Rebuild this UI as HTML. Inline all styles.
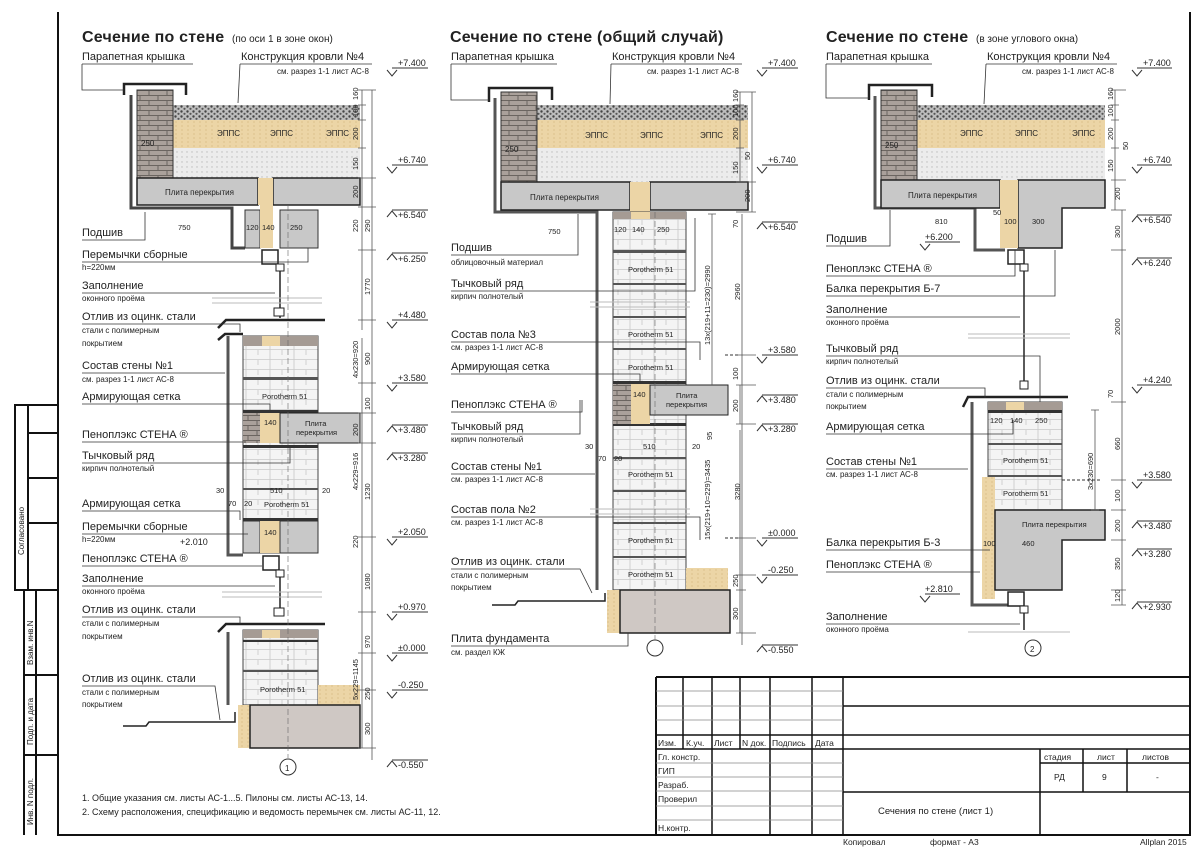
<!DOCTYPE html>
<html><head><meta charset="utf-8"><style>
html,body{margin:0;padding:0;background:#fff}
svg{display:block}
text{font-family:"Liberation Sans","DejaVu Sans",sans-serif;fill:#222}
.t{font-size:16px;font-weight:bold;letter-spacing:0.2px}
.ts{font-size:10px}
.l{font-size:11px}
.s{font-size:8px}
.d{font-size:7.5px}
.lv{font-size:9px}
.tb{font-size:8.5px}
</style></head><body>
<svg width="1200" height="849" viewBox="0 0 1200 849" xmlns="http://www.w3.org/2000/svg">
<defs>
<pattern id="brick" width="18" height="10" patternUnits="userSpaceOnUse">
<rect width="18" height="10" fill="#aaa19b"/><path d="M0 0.5H18M0 5.5H18M5 0V5M14 5V10" stroke="#6b6560" stroke-width="1"/></pattern>
<pattern id="grav" width="6" height="5" patternUnits="userSpaceOnUse">
<rect width="6" height="5" fill="#bdbdbd"/><circle cx="1.5" cy="1.5" r="1.2" fill="#444"/><circle cx="4.5" cy="3.8" r="1.1" fill="#555"/></pattern>
<pattern id="eps" width="6" height="4" patternUnits="userSpaceOnUse">
<rect width="6" height="4" fill="#ecd5a6"/><circle cx="2" cy="2" r="0.6" fill="#d2b27a"/></pattern>
<pattern id="lg" width="5" height="5" patternUnits="userSpaceOnUse">
<rect width="5" height="5" fill="#ececec"/><circle cx="2" cy="2" r="0.7" fill="#bbb"/></pattern>
<pattern id="poro" width="24" height="10" patternUnits="userSpaceOnUse">
<rect width="24" height="10" fill="#f4f4f4"/><path d="M0 9.5H24M6 0V10M18 0V5" stroke="#c9c9c9" stroke-width="0.8"/></pattern>
<pattern id="conc" width="8" height="8" patternUnits="userSpaceOnUse">
<rect width="8" height="8" fill="#c9c9c9"/></pattern>
</defs>

<!-- frame -->
<g fill="none" stroke="#111" stroke-width="2">
<path d="M58 12V835H1190V12"/>
<rect x="15" y="405" width="43" height="185"/>
<path d="M24 590V835M36 590V835M28 405V590M24 590H58M24 675H58M24 755H58M28 433H58M28 478H58M28 523H58"/>
</g>
<text transform="translate(24,555) rotate(-90)" class="s">Согласовано</text>
<text transform="translate(33,665) rotate(-90)" class="s">Взам. инв.N</text>
<text transform="translate(33,745) rotate(-90)" class="s">Подп. и дата</text>
<text transform="translate(33,825) rotate(-90)" class="s">Инв. N подл.</text>

<!-- ================== COLUMN 1 ================== -->
<text x="82" y="42" class="t">Сечение по стене</text><text x="232" y="42" class="ts">(по оси 1 в зоне окон)</text>
<!-- roof -->
<rect x="173" y="105" width="187" height="15" fill="url(#grav)"/>
<rect x="173" y="120" width="187" height="28" fill="url(#eps)"/>
<rect x="173" y="148" width="187" height="30" fill="url(#lg)"/>
<text x="217" y="136" class="s" fill="#777">ЭППС</text><text x="270" y="136" class="s" fill="#777">ЭППС</text><text x="326" y="136" class="s" fill="#777">ЭППС</text>
<rect x="137" y="90" width="36" height="88" fill="url(#brick)" stroke="#333"/>
<text x="141" y="146" class="s">250</text>
<path d="M124 95V84H186V95M124 84" fill="none" stroke="#222" stroke-width="2.5"/>
<path d="M131 95V208H232V248H245" fill="none" stroke="#444" stroke-width="3"/>
<rect x="137" y="178" width="121" height="27" fill="#c8c8c8" stroke="#222" stroke-width="1.5"/>
<rect x="273" y="178" width="87" height="27" fill="#c8c8c8" stroke="#222" stroke-width="1.5"/>
<rect x="258" y="178" width="15" height="27" fill="#ecd5a6"/>
<text x="165" y="195" class="s" fill="#666">Плита перекрытия</text>
<rect x="245" y="210" width="15" height="38" fill="#c8c8c8" stroke="#333"/><rect x="260" y="205" width="13" height="43" fill="#ecd5a6"/><rect x="280" y="210" width="38" height="38" fill="#c8c8c8" stroke="#333"/>
<text x="246" y="230" class="d">120</text><text x="262" y="230" class="d">140</text><text x="290" y="230" class="d">250</text>
<text x="178" y="230" class="d">750</text>
<!-- window 1 -->
<rect x="262" y="250" width="16" height="14" fill="#fff" stroke="#222" stroke-width="1.5"/><rect x="276" y="264" width="8" height="7" fill="#fff" stroke="#222"/>
<path d="M280 271V318" stroke="#222" stroke-width="1.5"/>
<path d="M212 303H322M212 298H322" stroke="#bbb"/>
<path d="M218 328L226 320H325" fill="none" stroke="#222" stroke-width="2.5"/><rect x="274" y="308" width="10" height="8" fill="#fff" stroke="#222"/>
<!-- wall 1 -->
<rect x="243" y="336" width="75" height="217" fill="url(#poro)" stroke="#444"/>
<rect x="243" y="336" width="75" height="10" fill="#a59b94"/><rect x="262" y="336" width="18" height="10" fill="#ecd5a6"/>
<rect x="243" y="377" width="75" height="3" fill="#555"/><rect x="243" y="410" width="75" height="3" fill="#333"/>
<rect x="243" y="413" width="17" height="30" fill="url(#brick)"/><rect x="260" y="413" width="20" height="30" fill="#ecd5a6"/>
<rect x="280" y="413" width="80" height="30" fill="#c8c8c8" stroke="#222"/><text x="305" y="426" class="d" fill="#666">Плита</text><text x="296" y="435" class="d" fill="#666">перекрытия</text>
<text x="264" y="425" class="d">140</text>
<rect x="243" y="445" width="75" height="3" fill="#333"/><rect x="243" y="488" width="75" height="2" fill="#555"/>
<text x="264" y="507" class="d" fill="#999">Porotherm 51</text><text x="262" y="399" class="d" fill="#999">Porotherm 51</text>
<rect x="243" y="518" width="75" height="3" fill="#333"/>
<rect x="243" y="521" width="17" height="32" fill="#c8c8c8" stroke="#333"/><rect x="260" y="521" width="20" height="32" fill="#ecd5a6"/><rect x="280" y="521" width="38" height="32" fill="#c8c8c8" stroke="#333"/>
<text x="264" y="535" class="d">140</text>
<text x="216" y="493" class="d">30</text><text x="270" y="493" class="d">510</text><text x="322" y="493" class="d">20</text><text x="228" y="506" class="d">70</text><text x="244" y="506" class="d">20</text>
<path d="M228 336V555H243" fill="none" stroke="#555" stroke-width="3"/>
<path d="M218 340L225 334H243" fill="none" stroke="#222" stroke-width="2.5"/>
<!-- window 2 -->
<rect x="263" y="556" width="16" height="14" fill="#fff" stroke="#222" stroke-width="1.5"/><rect x="276" y="570" width="8" height="7" fill="#fff" stroke="#222"/>
<path d="M280 577V612" stroke="#222" stroke-width="1.5"/>
<path d="M222 592H322M222 597H322" stroke="#bbb"/>
<rect x="274" y="608" width="10" height="8" fill="#fff" stroke="#222"/>
<path d="M218 632L226 624H325" fill="none" stroke="#222" stroke-width="2.5"/>
<rect x="243" y="630" width="75" height="75" fill="url(#poro)" stroke="#444"/>
<rect x="243" y="630" width="75" height="8" fill="#a59b94"/><rect x="262" y="630" width="18" height="8" fill="#ecd5a6"/>
<rect x="243" y="640" width="75" height="2" fill="#333"/><rect x="243" y="670" width="75" height="2" fill="#555"/>
<text x="260" y="692" class="d" fill="#999">Porotherm 51</text>
<path d="M228 632V705" stroke="#555" stroke-width="3"/>
<rect x="318" y="685" width="42" height="20" fill="url(#eps)"/>
<rect x="238" y="705" width="12" height="43" fill="url(#eps)"/>
<rect x="250" y="705" width="110" height="43" fill="#cfc8c4" stroke="#222" stroke-width="1.5"/>
<path d="M123 726H146L149 722H235V712" fill="none" stroke="#222" stroke-width="1.5"/>
<circle cx="288" cy="767" r="8" fill="none" stroke="#333"/><text x="285" y="771" class="s">1</text>
<path d="M288 205V758" stroke="#666" stroke-dasharray="6 3" stroke-width="0.6"/>
<!-- dims col1 -->
<g stroke="#555" stroke-width="0.8" fill="none">
<path d="M362 90V330M372 90V760M362 338V705M362 705V748"/>
<path d="M358 90H376M358 105H366M358 120H366M358 148H366M358 178H376M358 207H376M358 250H376M358 320H376M358 383H376M358 413H376M358 443H376M358 537H376M358 612H376M358 653H376M358 690H376M358 748H376"/>
</g>
<g class="d">
<text transform="translate(358,100) rotate(-90)">160</text><text transform="translate(358,117) rotate(-90)">100</text><text transform="translate(358,140) rotate(-90)">200</text><text transform="translate(358,170) rotate(-90)">150</text><text transform="translate(358,198) rotate(-90)">200</text><text transform="translate(358,232) rotate(-90)">220</text><text transform="translate(370,232) rotate(-90)">290</text><text transform="translate(370,295) rotate(-90)">1770</text>
<text transform="translate(358,378) rotate(-90)">4х230=920</text><text transform="translate(370,365) rotate(-90)">900</text><text transform="translate(358,436) rotate(-90)">200</text><text transform="translate(370,410) rotate(-90)">100</text><text transform="translate(358,490) rotate(-90)">4х229=916</text><text transform="translate(370,500) rotate(-90)">1230</text><text transform="translate(358,548) rotate(-90)">220</text><text transform="translate(370,590) rotate(-90)">1080</text><text transform="translate(358,700) rotate(-90)">5х229=1145</text><text transform="translate(370,648) rotate(-90)">970</text><text transform="translate(370,700) rotate(-90)">250</text><text transform="translate(370,735) rotate(-90)">300</text>
</g>
<g fill="none" stroke="#333" stroke-width="1">
<path d="M392 68H428M387 70L392 76L397 70M392 165H428M387 167L392 173L397 167M392 210H428M387 217L392 211L397 217M392 253H428M387 260L392 254L397 260M392 320H428M387 322L392 328L397 322M392 383H428M387 385L392 391L397 385M392 425H428M387 432L392 426L397 432M392 453H428M387 460L392 454L397 460M392 537H428M387 539L392 545L397 539M392 612H428M387 614L392 620L397 614M392 653H428M387 655L392 661L397 655M392 690H428M387 692L392 698L397 692M392 760H428M387 767L392 761L397 767"/>
</g>
<g class="lv"><text x="398" y="66">+7.400</text><text x="398" y="163">+6.740</text><text x="398" y="218">+6.540</text><text x="398" y="262">+6.250</text><text x="398" y="318">+4.480</text><text x="398" y="381">+3.580</text><text x="398" y="433">+3.480</text><text x="398" y="461">+3.280</text><text x="398" y="535">+2.050</text><text x="398" y="610">+0.970</text><text x="398" y="651">±0.000</text><text x="398" y="688">-0.250</text><text x="398" y="768">-0.550</text>
<text x="180" y="545">+2.010</text></g>
<!-- labels col1 -->
<g class="l">
<text x="82" y="60">Парапетная крышка</text><text x="241" y="60">Конструкция кровли №4</text>
<text x="82" y="236">Подшив</text><text x="82" y="258">Перемычки сборные</text><text x="82" y="289">Заполнение</text>
<text x="82" y="320">Отлив из оцинк. стали</text><text x="82" y="369">Состав стены №1</text><text x="82" y="400">Армирующая сетка</text>
<text x="82" y="438">Пеноплэкс СТЕНА ®</text><text x="82" y="459">Тычковый ряд</text><text x="82" y="507">Армирующая сетка</text>
<text x="82" y="530">Перемычки сборные</text><text x="82" y="562">Пеноплэкс СТЕНА ®</text><text x="82" y="582">Заполнение</text>
<text x="82" y="613">Отлив из оцинк. стали</text><text x="82" y="682">Отлив из оцинк. стали</text>
</g>
<g class="s">
<text x="277" y="74">см. разрез 1-1 лист АС-8</text><text x="82" y="270">h=220мм</text><text x="82" y="301">оконного проёма</text>
<text x="82" y="333">стали с полимерным</text><text x="82" y="346">покрытием</text><text x="82" y="382">см. разрез 1-1 лист АС-8</text>
<text x="82" y="471">кирпич полнотелый</text><text x="82" y="542">h=220мм</text><text x="82" y="594">оконного проёма</text>
<text x="82" y="626">стали с полимерным</text><text x="82" y="639">покрытием</text><text x="82" y="695">стали с полимерным</text><text x="82" y="707">покрытием</text>
</g>
<g stroke="#333" stroke-width="0.8" fill="none">
<path d="M82 64H193M82 64V90H124M240 64H372M240 64L238 103M82 240H145V212M82 262H308V248M82 293H275M82 324H240L240 332M82 373H225M82 404H270V412M82 442H246M82 463H290V448M82 511H240V520M82 534H248M82 566H262M82 586H275M82 617H240V624M82 686H215L220 720"/>
</g>
<text x="82" y="801" class="s" style="font-size:9px">1. Общие указания см. листы АС-1...5. Пилоны см. листы АС-13, 14.</text>
<text x="82" y="815" class="s" style="font-size:9px">2. Схему расположения, спецификацию и ведомость перемычек см. листы АС-11, 12.</text>

<!-- ================== COLUMN 2 ================== -->
<text x="450" y="42" class="t">Сечение по стене (общий случай)</text>
<rect x="537" y="105" width="211" height="15" fill="url(#grav)"/>
<rect x="537" y="120" width="211" height="28" fill="url(#eps)"/>
<rect x="537" y="148" width="211" height="34" fill="url(#lg)"/>
<text x="585" y="138" class="s" fill="#777">ЭППС</text><text x="640" y="138" class="s" fill="#777">ЭППС</text><text x="700" y="138" class="s" fill="#777">ЭППС</text>
<rect x="501" y="92" width="36" height="90" fill="url(#brick)" stroke="#333"/>
<text x="505" y="152" class="s">250</text>
<path d="M489 102V88H552V100" fill="none" stroke="#222" stroke-width="2.5"/>
<path d="M495 98V212H597V590" fill="none" stroke="#555" stroke-width="3"/>
<rect x="501" y="182" width="129" height="28" fill="#c8c8c8" stroke="#222" stroke-width="1.5"/>
<rect x="650" y="182" width="98" height="28" fill="#c8c8c8" stroke="#222" stroke-width="1.5"/>
<rect x="630" y="182" width="20" height="30" fill="#ecd5a6"/>
<text x="530" y="200" class="s" fill="#666">Плита перекрытия</text>
<text x="548" y="234" class="d">750</text>
<rect x="613" y="212" width="73" height="378" fill="url(#poro)" stroke="#444"/>
<rect x="613" y="212" width="73" height="7" fill="#a59b94"/><rect x="631" y="212" width="19" height="7" fill="#ecd5a6"/>
<text x="614" y="232" class="d">120</text><text x="632" y="232" class="d">140</text><text x="657" y="232" class="d">250</text>
<g fill="#555"><rect x="613" y="250" width="73" height="3"/><rect x="613" y="283" width="73" height="2"/><rect x="613" y="316" width="73" height="2"/><rect x="613" y="348" width="73" height="2"/><rect x="613" y="381" width="73" height="3" fill="#333"/><rect x="613" y="423" width="73" height="3" fill="#333"/><rect x="613" y="457" width="73" height="2"/><rect x="613" y="490" width="73" height="2"/><rect x="613" y="522" width="73" height="2"/><rect x="613" y="556" width="73" height="2"/></g>
<g class="d" fill="#999"><text x="628" y="272">Porotherm 51</text><text x="628" y="337">Porotherm 51</text><text x="628" y="370">Porotherm 51</text><text x="628" y="477">Porotherm 51</text><text x="628" y="543">Porotherm 51</text><text x="628" y="577">Porotherm 51</text></g>
<rect x="613" y="384" width="18" height="40" fill="url(#brick)"/><rect x="631" y="384" width="19" height="40" fill="#ecd5a6"/>
<rect x="650" y="385" width="78" height="30" fill="#c8c8c8" stroke="#222"/><text x="676" y="398" class="d" fill="#666">Плита</text><text x="666" y="407" class="d" fill="#666">перекрытия</text>
<text x="633" y="397" class="d">140</text>
<text x="585" y="449" class="d">30</text><text x="643" y="449" class="d">510</text><text x="692" y="449" class="d">20</text><text x="598" y="461" class="d">70</text><text x="614" y="461" class="d">20</text>
<path d="M590 302H690M590 307H690M590 509H690M590 514H690" stroke="#bbb"/>
<rect x="686" y="568" width="42" height="22" fill="url(#eps)"/>
<rect x="607" y="590" width="13" height="43" fill="url(#eps)"/>
<rect x="620" y="590" width="110" height="43" fill="#cfc8c4" stroke="#222" stroke-width="1.5"/>
<path d="M492 605H515L518 601H605V593" fill="none" stroke="#222" stroke-width="1.5"/>
<circle cx="655" cy="648" r="8" fill="none" stroke="#333"/>
<path d="M655 212V640" stroke="#666" stroke-dasharray="6 3" stroke-width="0.6"/>
<g stroke="#555" stroke-width="0.8" fill="none">
<path d="M740 92V182M752 92V212M712 214V385M742 214V645M740 385V424M740 430V590M740 590V633"/>
<path d="M736 92H756M736 105H744M736 120H744M736 148H744M736 182H756M736 212H756M708 214H716M736 355H756M736 385H756M736 424H756M736 538H756M736 575H756M736 590H746M736 633H756"/>
</g>
<g class="d">
<text transform="translate(738,102) rotate(-90)">160</text><text transform="translate(738,117) rotate(-90)">100</text><text transform="translate(738,140) rotate(-90)">200</text><text transform="translate(738,174) rotate(-90)">150</text><text transform="translate(750,202) rotate(-90)">200</text><text transform="translate(750,160) rotate(-90)">50</text>
<text transform="translate(710,345) rotate(-90)">13х(219+11=230)=2990</text><text transform="translate(740,300) rotate(-90)">2960</text><text transform="translate(738,380) rotate(-90)">100</text><text transform="translate(738,412) rotate(-90)">200</text><text transform="translate(710,540) rotate(-90)">15х(219+10=229)=3435</text><text transform="translate(740,500) rotate(-90)">3280</text><text transform="translate(738,587) rotate(-90)">250</text><text transform="translate(738,620) rotate(-90)">300</text><text transform="translate(738,228) rotate(-90)">70</text><text transform="translate(712,440) rotate(-90)">95</text>
</g>
<g fill="none" stroke="#333" stroke-width="1">
<path d="M762 68H798M757 70L762 76L767 70M762 165H798M757 167L762 173L767 167M762 222H798M757 229L762 223L767 229M762 355H798M757 357L762 363L767 357M762 395H798M757 402L762 396L767 402M762 424H798M757 431L762 425L767 431M762 538H798M757 540L762 546L767 540M762 575H798M757 577L762 583L767 577M762 645H798M757 652L762 646L767 652"/>
<path d="M725 355H740M725 538H740" stroke-dasharray="3 2"/>
</g>
<g class="lv"><text x="768" y="66">+7.400</text><text x="768" y="163">+6.740</text><text x="768" y="230">+6.540</text><text x="768" y="353">+3.580</text><text x="768" y="403">+3.480</text><text x="768" y="432">+3.280</text><text x="768" y="536">±0.000</text><text x="768" y="573">-0.250</text><text x="768" y="653">-0.550</text></g>
<g class="l">
<text x="451" y="60">Парапетная крышка</text><text x="612" y="60">Конструкция кровли №4</text>
<text x="451" y="251">Подшив</text><text x="451" y="287">Тычковый ряд</text><text x="451" y="338">Состав пола №3</text><text x="451" y="370">Армирующая сетка</text>
<text x="451" y="408">Пеноплэкс СТЕНА ®</text><text x="451" y="430">Тычковый ряд</text><text x="451" y="470">Состав стены №1</text><text x="451" y="513">Состав пола №2</text>
<text x="451" y="565">Отлив из оцинк. стали</text><text x="451" y="642">Плита фундамента</text>
</g>
<g class="s">
<text x="647" y="74">см. разрез 1-1 лист АС-8</text><text x="451" y="265">облицовочный материал</text><text x="451" y="299">кирпич полнотелый</text>
<text x="451" y="350">см. разрез 1-1 лист АС-8</text><text x="451" y="442">кирпич полнотелый</text><text x="451" y="482">см. разрез 1-1 лист АС-8</text>
<text x="451" y="525">см. разрез 1-1 лист АС-8</text><text x="451" y="578">стали с полимерным</text><text x="451" y="590">покрытием</text><text x="451" y="655">см. раздел КЖ</text>
</g>
<g stroke="#333" stroke-width="0.8" fill="none">
<path d="M451 64H557M451 64V100H489M611 64H742M611 64L610 104M451 255H578V214M451 291H695V218M451 342H700V360M451 374H640V384M451 412H582V400M451 434H580V400M451 474H595M451 517H700V540M451 569H580L592 593M451 646H628V633"/>
</g>

<!-- ================== COLUMN 3 ================== -->
<text x="826" y="42" class="t">Сечение по стене</text><text x="976" y="42" class="ts">(в зоне углового окна)</text>
<rect x="917" y="105" width="188" height="15" fill="url(#grav)"/>
<rect x="917" y="120" width="188" height="28" fill="url(#eps)"/>
<rect x="917" y="148" width="188" height="32" fill="url(#lg)"/>
<text x="960" y="136" class="s" fill="#777">ЭППС</text><text x="1015" y="136" class="s" fill="#777">ЭППС</text><text x="1072" y="136" class="s" fill="#777">ЭППС</text>
<rect x="881" y="90" width="36" height="90" fill="url(#brick)" stroke="#333"/>
<text x="885" y="148" class="s">250</text>
<path d="M869 100V85H932V97" fill="none" stroke="#222" stroke-width="2.5"/>
<path d="M875 96V208H975V250H1005" fill="none" stroke="#555" stroke-width="3"/>
<rect x="881" y="180" width="119" height="28" fill="#c8c8c8" stroke="#222" stroke-width="1.5"/>
<path d="M1018 180H1105V208H1062V248H1018Z" fill="#c8c8c8" stroke="#222" stroke-width="1.5"/>
<rect x="1000" y="180" width="18" height="68" fill="#ecd5a6"/>
<text x="908" y="198" class="s" fill="#666">Плита перекрытия</text>
<text x="935" y="224" class="d">810</text><text x="993" y="215" class="d">50</text><text x="1004" y="224" class="d">100</text><text x="1032" y="224" class="d">300</text>
<rect x="1008" y="250" width="16" height="14" fill="#fff" stroke="#222" stroke-width="1.5"/><rect x="1020" y="264" width="8" height="7" fill="#fff" stroke="#222"/>
<path d="M1024 271V382" stroke="#222" stroke-width="1.5"/>
<path d="M968 334H1070M968 338H1070" stroke="#bbb"/>
<rect x="1020" y="381" width="8" height="8" fill="#fff" stroke="#222"/>
<path d="M963 407L968 397H1068" fill="none" stroke="#222" stroke-width="2.5"/>
<rect x="988" y="402" width="74" height="108" fill="url(#poro)" stroke="#444"/>
<rect x="988" y="402" width="74" height="8" fill="#a59b94"/><rect x="1006" y="402" width="18" height="8" fill="#ecd5a6"/>
<rect x="988" y="410" width="74" height="3" fill="#333"/><rect x="988" y="443" width="74" height="2" fill="#555"/><rect x="988" y="475" width="74" height="2" fill="#555"/>
<text x="990" y="423" class="d">120</text><text x="1010" y="423" class="d">140</text><text x="1035" y="423" class="d">250</text>
<text x="1003" y="463" class="d" fill="#999">Porotherm 51</text><text x="1003" y="496" class="d" fill="#999">Porotherm 51</text>
<path d="M972 402V605H1010" fill="none" stroke="#555" stroke-width="3"/>
<rect x="982" y="477" width="13" height="122" fill="url(#eps)"/>
<path d="M995 510H1105V540H1062V590H995Z" fill="#c8c8c8" stroke="#222" stroke-width="1.5"/>
<text x="1022" y="527" class="d" fill="#666">Плита перекрытия</text>
<text x="983" y="546" class="d">100</text><text x="1022" y="546" class="d">460</text>
<rect x="1008" y="592" width="16" height="14" fill="#fff" stroke="#222" stroke-width="1.5"/><rect x="1020" y="606" width="8" height="7" fill="#fff" stroke="#222"/>
<path d="M1024 613V630" stroke="#222" stroke-width="1.5"/>
<path d="M968 632H1070" stroke="#bbb"/>
<circle cx="1033" cy="648" r="8" fill="none" stroke="#333"/><text x="1030" y="652" class="s">2</text>
<g stroke="#555" stroke-width="0.8" fill="none">
<path d="M1115 90V210M1122 210V605M1095 410V510"/>
<path d="M1111 90H1126M1111 105H1119M1111 120H1119M1111 148H1119M1111 180H1126M1111 210H1126M1111 250H1126M1111 402H1126M1111 480H1126M1111 510H1126M1111 540H1126M1111 590H1126M1111 605H1126M1091 410H1099M1091 510H1099"/>
</g>
<g class="d">
<text transform="translate(1113,100) rotate(-90)">160</text><text transform="translate(1113,117) rotate(-90)">100</text><text transform="translate(1113,140) rotate(-90)">200</text><text transform="translate(1113,172) rotate(-90)">150</text><text transform="translate(1120,200) rotate(-90)">200</text><text transform="translate(1120,238) rotate(-90)">300</text><text transform="translate(1120,335) rotate(-90)">2000</text><text transform="translate(1120,450) rotate(-90)">660</text><text transform="translate(1093,490) rotate(-90)">3х230=690</text><text transform="translate(1120,502) rotate(-90)">100</text><text transform="translate(1120,532) rotate(-90)">200</text><text transform="translate(1120,570) rotate(-90)">350</text><text transform="translate(1120,602) rotate(-90)">120</text><text transform="translate(1113,398) rotate(-90)">70</text><text transform="translate(1128,150) rotate(-90)">50</text>
</g>
<g fill="none" stroke="#333" stroke-width="1">
<path d="M1137 68H1172M1132 70L1137 76L1142 70M1137 165H1172M1132 167L1137 173L1142 167M1137 215H1172M1132 222L1137 216L1142 222M1137 258H1172M1132 265L1137 259L1142 265M1137 385H1172M1132 387L1137 393L1142 387M1137 480H1172M1132 482L1137 488L1142 482M1137 521H1172M1132 528L1137 522L1142 528M1137 549H1172M1132 556L1137 550L1142 556M1137 602H1172M1132 609L1137 603L1142 609"/>
<path d="M925 242H960M920 244L925 250L930 244M925 594H960M920 596L925 602L930 596"/>
<path d="M1062 480H1100" stroke-dasharray="3 2"/>
</g>
<g class="lv"><text x="1143" y="66">+7.400</text><text x="1143" y="163">+6.740</text><text x="1143" y="223">+6.540</text><text x="1143" y="266">+6.240</text><text x="1143" y="383">+4.240</text><text x="1143" y="478">+3.580</text><text x="1143" y="529">+3.480</text><text x="1143" y="557">+3.280</text><text x="1143" y="610">+2.930</text>
<text x="925" y="240">+6.200</text><text x="925" y="592">+2.810</text></g>
<g class="l">
<text x="826" y="60">Парапетная крышка</text><text x="987" y="60">Конструкция кровли №4</text>
<text x="826" y="242">Подшив</text><text x="826" y="272">Пеноплэкс СТЕНА ®</text><text x="826" y="292">Балка перекрытия Б-7</text>
<text x="826" y="313">Заполнение</text><text x="826" y="352">Тычковый ряд</text><text x="826" y="384">Отлив из оцинк. стали</text>
<text x="826" y="430">Армирующая сетка</text><text x="826" y="465">Состав стены №1</text><text x="826" y="546">Балка перекрытия Б-3</text>
<text x="826" y="568">Пеноплэкс СТЕНА ®</text><text x="826" y="620">Заполнение</text>
</g>
<g class="s">
<text x="1022" y="74">см. разрез 1-1 лист АС-8</text><text x="826" y="325">оконного проёма</text><text x="826" y="364">кирпич полнотелый</text>
<text x="826" y="397">стали с полимерным</text><text x="826" y="409">покрытием</text><text x="826" y="477">см. разрез 1-1 лист АС-8</text>
<text x="826" y="632">оконного проёма</text>
</g>
<g stroke="#333" stroke-width="0.8" fill="none">
<path d="M826 64H932M826 64V98H869M986 64H1117M986 64L984 104M826 246H890V210M826 276H1015V250M826 296H1055V250M826 317H1020M826 356H1040V402M826 388H985V398M826 434H1013V420M826 469H968M826 550H990M826 572H980M826 624H1020"/>
</g>

<!-- ================== TITLE BLOCK ================== -->
<g fill="none" stroke="#111">
<path d="M656 677H1190M656 677V835" stroke-width="2"/>
<path d="M843 677V835M843 706H1190M843 735H1190M656 749H843M1040 749V835M843 749H1190M1040 763H1190M1083 749V792M1127 749V792M843 792H1190" stroke-width="1.5"/>
<path d="M683 677V749M712 677V749M740 677V749M770 677V835M812 677V835M712 749V835M656 735H843" stroke-width="1.5"/>
<path d="M656 691H843M656 706H843M656 720H843M656 763H843M656 777H843M656 791H843M656 806H843M656 820H843" stroke-width="0.7" stroke="#888"/>
</g>
<g class="tb">
<text x="658" y="746">Изм.</text><text x="686" y="746">К.уч.</text><text x="714" y="746">Лист</text><text x="742" y="746">N док.</text><text x="772" y="746">Подпись</text><text x="815" y="746">Дата</text>
<text x="658" y="760">Гл. констр.</text><text x="658" y="774">ГИП</text><text x="658" y="788">Разраб.</text><text x="658" y="802">Проверил</text><text x="658" y="831">Н.контр.</text>
<text x="1044" y="760">стадия</text><text x="1097" y="760">лист</text><text x="1142" y="760">листов</text>
<text x="1054" y="780">РД</text><text x="1102" y="780">9</text><text x="1156" y="780">-</text>
<text x="878" y="814" style="font-size:9.5px">Сечения по стене (лист 1)</text>
</g>
<g class="tb" style="fill:#888"><text x="843" y="845" fill="#888">Копировал</text><text x="930" y="845" fill="#888">формат - А3</text><text x="1140" y="845" fill="#888">Allplan 2015</text></g>
</svg>
</body></html>
